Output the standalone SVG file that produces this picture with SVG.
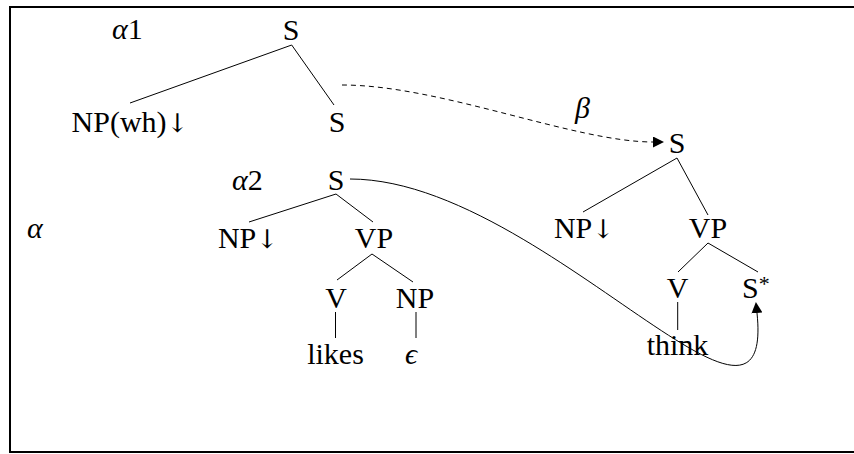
<svg xmlns="http://www.w3.org/2000/svg" width="854" height="454" viewBox="0 0 854 454">
<defs>
<style>
text{font-family:"Liberation Serif","Times New Roman",serif;font-size:30px;fill:#000}
.c{text-anchor:middle}
.i{font-style:italic}
.a{font-family:"DejaVu Serif",serif;font-size:26px}
.e{stroke:#000;stroke-width:1;fill:none}
.d{stroke-dasharray:5 4}
</style>
<marker id="ah" markerUnits="userSpaceOnUse" markerWidth="11" markerHeight="11" viewBox="0 0 10 10" refX="0" refY="5" orient="auto"><path d="M0,0 L10,5 L0,10 z" fill="#000"/></marker>
</defs>
<rect x="10" y="7" width="860" height="445" fill="#fff" stroke="#000" stroke-width="2"/>
<g id="labels">
<text x="112" y="39"><tspan class="i">α</tspan>1</text>
<text x="232" y="190"><tspan class="i">α</tspan>2</text>
<text x="27" y="238" class="i">α</text>
<text x="575" y="118" class="i">β</text>
</g>
<g id="alpha1">
<text class="c" x="291" y="40">S</text>
<text class="c" x="130" y="132">NP(wh)<tspan class="a">↓</tspan></text>
<text class="c" x="337" y="132">S</text>
</g>
<g id="alpha2">
<text class="c" x="336" y="190">S</text>
<text class="c" x="248" y="248">NP<tspan class="a">↓</tspan></text>
<text class="c" x="374" y="248">VP</text>
<text class="c" x="336" y="308">V</text>
<text class="c" x="415" y="308">NP</text>
<text class="c" x="335.5" y="364">likes</text>
<text class="c i" x="411" y="364">ϵ</text>
</g>
<g id="beta">
<text class="c" x="677" y="153">S</text>
<text class="c" x="584" y="238">NP<tspan class="a">↓</tspan></text>
<text class="c" x="708" y="238">VP</text>
<text class="c" x="677.5" y="298">V</text>
<text x="742" y="298">S<tspan font-size="22" dy="-7">*</tspan></text>
<text class="c" x="677.5" y="355">think</text>
</g>
<g id="connectors">
<path class="e" d="M291.7,45 L130,103 M291.7,45 L334,105"/>
<path class="e" d="M336,194 L249,222 M336,194 L373,222 M372,254 L337,280 M372,254 L413,282 M335.5,312 L335.5,338 M416,312 L416,338"/>
<path class="e" d="M677,158 L583,212 M677,158 L708,215 M708,243 L678,272 M708,243 L758,272 M677.7,302 L677.7,330"/>
<path class="e d" d="M342,85 C440,85 575,142 653,142" marker-end="url(#ah)"/>
<path class="e" d="M350,179 C540,179 775,485 757,313" marker-end="url(#ah)"/>
</g>
</svg>
